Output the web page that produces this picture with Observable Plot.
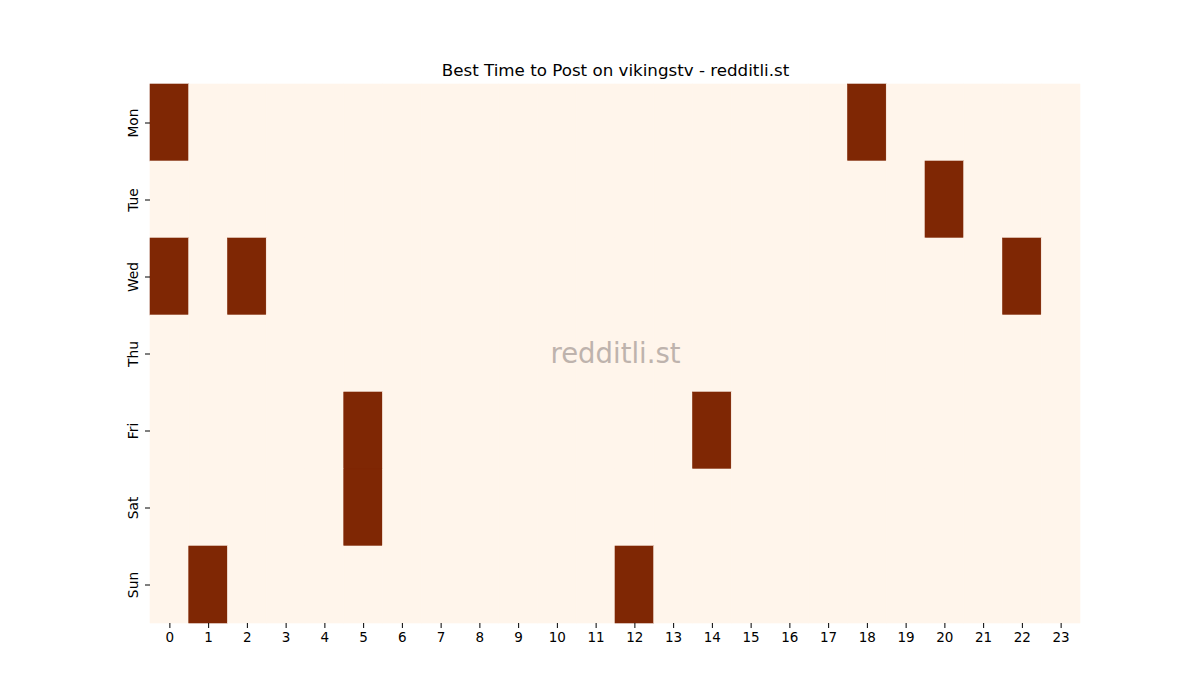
<!DOCTYPE html>
<html>
<head>
<meta charset="utf-8">
<script src="https://cdn.jsdelivr.net/npm/d3@7"></script>
<script src="https://cdn.jsdelivr.net/npm/@observablehq/plot@0.6"></script>
<style>
  body { margin: 0; background: #fff; }
  svg { font-family: "DejaVu Sans", sans-serif; }
</style>
</head>
<body>
<div id="chart"></div>
<script>
const days = ["Mon", "Tue", "Wed", "Thu", "Fri", "Sat", "Sun"];
const hours = d3.range(24);
const titleText = "Best Time to Post on vikingstv - redditli.st";
const watermark = "redditli.st";
// hours marked as best (value 1) per day; all others are 0
const bestMon = [0, 18];
const bestTue = [20];
const bestWed = [0, 2, 22];
const bestThu = [];
const bestFri = [5, 14];
const bestSat = [5];
const bestSun = [1, 12];
const bestByDay = [bestMon, bestTue, bestWed, bestThu, bestFri, bestSat, bestSun];

const cells = [];
days.forEach((d, i) => {
  hours.forEach(h => cells.push({day: d, hour: h, value: bestByDay[i].includes(h) ? 1 : 0}));
});

const chart = Plot.plot({
  width: 1200,
  height: 700,
  marginLeft: 150,
  marginRight: 120,
  marginTop: 84,
  marginBottom: 77,
  style: {fontFamily: "DejaVu Sans, sans-serif", fontSize: "13px", background: "#fff"},
  x: {type: "band", domain: hours, padding: 0, round: false, label: null},
  y: {type: "band", domain: days, padding: 0, round: false, label: null},
  color: {type: "linear", domain: [0, 1], range: ["#fff5eb", "#7f2704"]},
  marks: [
    Plot.cell(cells, {x: "hour", y: "day", fill: "value", stroke: "value", strokeWidth: 0.6}),
    Plot.axisX({tickSize: 5, tickPadding: 4, fontSize: 13.5, label: null, stroke: "#000"}),
    Plot.axisY({tickSize: 5, tickFormat: () => "", label: null, stroke: "#000"}),
    Plot.text(days, {y: d => d, frameAnchor: "left", dx: -17, rotate: -90, textAnchor: "middle", lineAnchor: "middle", fontSize: 13.8, fill: "#000"}),
    Plot.text([titleText], {frameAnchor: "top", dy: -20, fontSize: 16.7, fill: "#000", text: d => d}),
    Plot.text([watermark], {frameAnchor: "middle", dy: 0, fontSize: 27.5, fill: "#beb3ad", text: d => d})
  ]
});
document.getElementById("chart").appendChild(chart);
</script>
</body>
</html>
